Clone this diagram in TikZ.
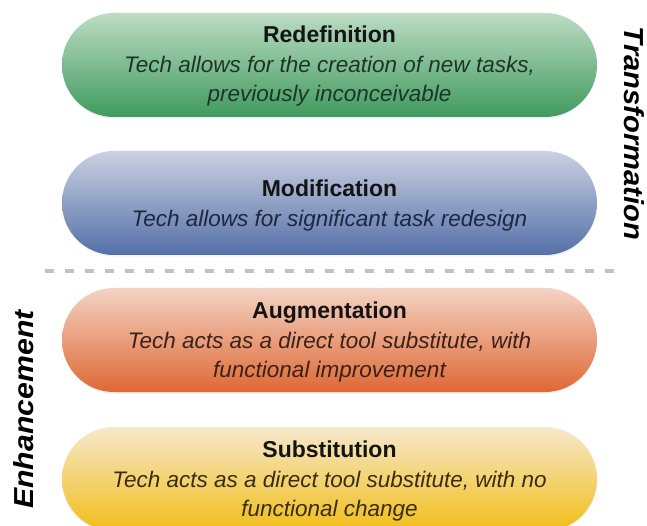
\documentclass[tikz,border=0pt]{standalone}
\usepackage{fontspec}
\setmainfont{Liberation Sans}
\usetikzlibrary{shadows}
\definecolor{gtop}{HTML}{BCDCC4}
\definecolor{gbot}{HTML}{3F9A5E}
\definecolor{btop}{HTML}{CBD0E2}
\definecolor{bbot}{HTML}{5470A8}
\definecolor{otop}{HTML}{F4D3C3}
\definecolor{obot}{HTML}{DE6835}
\definecolor{ytop}{HTML}{F6E8CC}
\definecolor{ybot}{HTML}{F1BE18}
\definecolor{gtxt}{HTML}{1E3526}
\definecolor{btxt}{HTML}{1F2740}
\definecolor{otxt}{HTML}{3A2218}
\definecolor{ytxt}{HTML}{3A2C10}
\definecolor{dashgray}{HTML}{C2C2C2}
\tikzset{
  pill/.style={rectangle, rounded corners=52pt, inner sep=0pt,
    minimum width=535pt, minimum height=104pt,
    drop shadow={opacity=0.12, shadow xshift=0pt, shadow yshift=-1.5pt}},
  ttl/.style={anchor=base, font=\fontsize{23}{28}\selectfont\bfseries, text=black!92},
  sub/.style={anchor=base, font=\fontsize{22.5}{28}\selectfont\itshape},
  side/.style={anchor=base, inner sep=0pt, font=\fontsize{27.5}{32}\selectfont\bfseries\itshape, text=black}
}
\begin{document}
\begin{tikzpicture}[x=1pt,y=-1pt]
\useasboundingbox[fill=white] (0,0) rectangle (647,526);
% pills
\node[pill, top color=gtop, bottom color=gbot] (redef) at (329.5,65) {};
\node[pill, top color=btop, bottom color=bbot] (modif) at (329.5,203) {};
\node[pill, top color=otop, bottom color=obot] (augm) at (329.5,340) {};
\node[pill, top color=ytop, bottom color=ybot] (subst) at (329.5,479) {};
% texts
\node[ttl] (redefT) at (329.5,43) {Redefinition};
\node[sub, text=gtxt] (redefA) at (329.5,73) {Tech allows for the creation of new tasks,};
\node[sub, text=gtxt] (redefB) at (329.5,102) {previously inconceivable};
\node[ttl] (modifT) at (329.5,197) {Modification};
\node[sub, text=btxt] (modifA) at (329.5,227) {Tech allows for significant task redesign};
\node[ttl] (augmT) at (329.5,318) {Augmentation};
\node[sub, text=otxt] (augmA) at (329.5,348) {Tech acts as a direct tool substitute, with};
\node[sub, text=otxt] (augmB) at (329.5,377) {functional improvement};
\node[ttl] (substT) at (329.5,457) {Substitution};
\node[sub, text=ytxt] (substA) at (329.5,487) {Tech acts as a direct tool substitute, with no};
\node[sub, text=ytxt] (substB) at (329.5,516) {functional change};
% divider
\coordinate (dl) at (45,271);
\coordinate (dr) at (616,271);
\draw[dashgray, line width=4pt, dash pattern=on 9pt off 11pt] (dl) -- (dr);
% side labels
\node[side, rotate=-90] (trans) at (624,133.5) {\scalebox{1.06}[1]{Transformation}};
\node[side, rotate=90] (enh) at (33,409.5) {\scalebox{1.1}[1]{Enhancement}};
\end{tikzpicture}
\end{document}
